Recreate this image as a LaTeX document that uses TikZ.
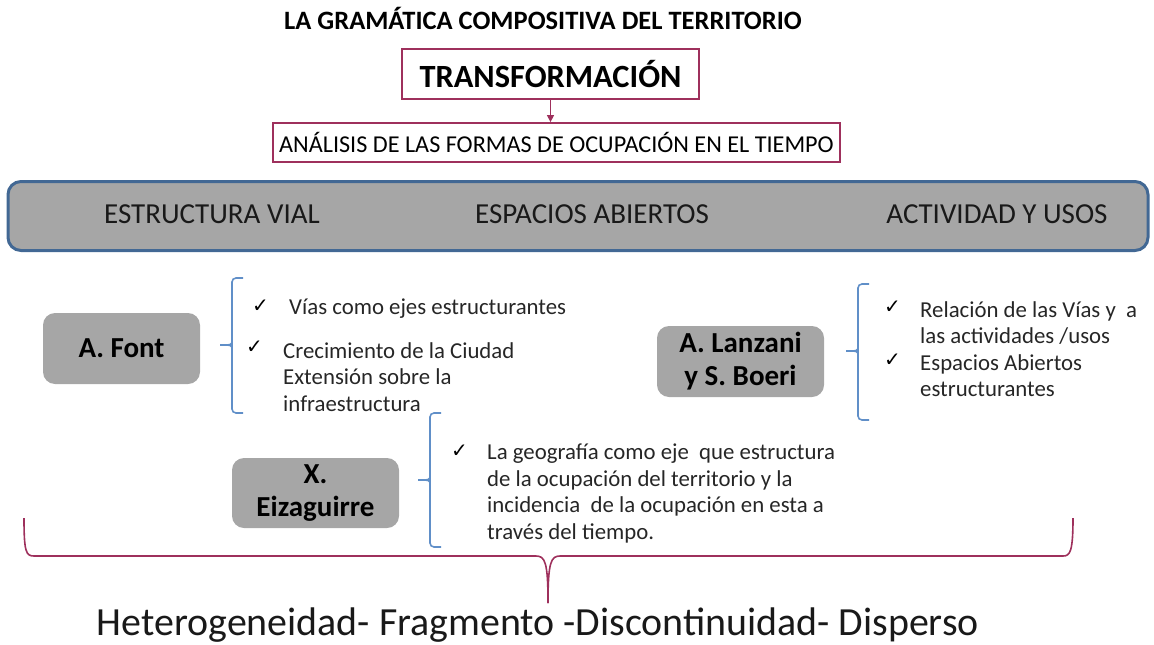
\documentclass[tikz,border=0pt]{standalone}
\usepackage{fontspec}
\setmainfont{Carlito}
\newfontfamily\checkfont{DejaVu Sans}
\usetikzlibrary{arrows.meta, positioning}

\definecolor{borde}{RGB}{158,48,92}
\definecolor{azul}{RGB}{96,143,200}
\definecolor{barraazul}{RGB}{66,104,148}
\definecolor{gris}{RGB}{166,166,166}

\tikzset{
  cajaroja/.style={draw=borde, line width=1.8pt, fill=white, inner sep=0pt},
  barra/.style={draw=barraazul, line width=3pt, fill=gris, rounded corners=13pt},
  eje/.style={font=\fontsize{29}{33}\selectfont, text=black!90},
  autor/.style={fill=gris, rounded corners=12pt, inner sep=0pt, align=center,
    font=\fontsize{29}{33}\selectfont\bfseries},
  item/.style={anchor=west, align=left, inner sep=0pt,
    font=\fontsize{22.8}{26.5}\selectfont, text=black!85},
  marca/.style={anchor=west, inner sep=0pt, font=\checkfont\fontsize{20}{20}\selectfont},
  corchete/.style={draw=azul, line width=1.6pt},
  llave/.style={draw=borde, line width=1.6pt},
}

% #1 = x, #2 = arriba, #3 = punta, #4 = abajo
\newcommand\corchete[4]{%
  \draw[corchete, rounded corners=4pt] (#1+11,#2) -- (#1,#2) -- (#1,#4) -- (#1+11,#4);
  \draw[corchete] (#1,#3-5) .. controls (#1,#3) .. (#1-12,#3);
  \draw[corchete] (#1,#3+5) .. controls (#1,#3) .. (#1-12,#3);
}

\begin{document}
\begin{tikzpicture}[x=1pt, y=-1pt]
  \useasboundingbox (0,0) rectangle (1154,645);

  % cabecera
  \node[font=\fontsize{26.5}{28}\selectfont\bfseries, inner sep=0pt] (titulo) at (543,18)
    {LA GRAMÁTICA COMPOSITIVA DEL TERRITORIO};
  \node[cajaroja, minimum width=297pt, minimum height=50pt,
    font=\fontsize{32.4}{36}\selectfont\bfseries] (transf) at (550.5,74) {TRANSFORMACIÓN};
  \node[cajaroja, minimum width=567pt, minimum height=39pt,
    font=\fontsize{24.2}{27}\selectfont] (analisis) at (556.5,142.5)
    {ANÁLISIS DE LAS FORMAS DE OCUPACIÓN EN EL TIEMPO};
  \draw[borde, line width=1.3pt, -{Triangle[length=7pt, width=7pt]}]
    (transf.south) -- (transf.south |- analisis.north);

  % barra de ejes
  \node[barra, minimum width=1140pt, minimum height=69pt] (barra) at (578,216) {};
  \node[eje] (vial) at (212,214) {ESTRUCTURA VIAL};
  \node[eje] (abiertos) at (592,214) {ESPACIOS ABIERTOS};
  \node[eje] (usos) at (997,214) {ACTIVIDAD Y USOS};

  % autores
  \node[autor, minimum width=157pt, minimum height=71pt] (font) at (121.5,348.5) {A. Font};
  \node[autor, minimum width=167pt, minimum height=71pt] (lanzani) at (740.5,361.5)
    {A. Lanzani\\y S. Boeri};
  \node[autor, minimum width=167pt, minimum height=70pt] (eizaguirre) at (315.5,493)
    {X.\\Eizaguirre};

  % A. Font
  \corchete{232}{278}{345}{413}
  \node[marca] (m1) at (252,306) {✓};
  \node[item] (i1) at (289,309) {Vías como ejes estructurantes};
  \node[marca] (m2) at (246,347) {✓};
  \node[item] (i2) at (283,377) {Crecimiento de la Ciudad\\Extensión sobre la\\infraestructura};

  % A. Lanzani y S. Boeri
  \corchete{858}{284}{351}{420}
  \node[marca] (m3) at (884,307) {✓};
  \node[item] (i3) at (920,323) {Relación de las Vías y~ a\\las actividades /usos};
  \node[marca] (m4) at (884,360) {✓};
  \node[item] (i4) at (920,375.5) {Espacios Abiertos\\estructurantes};

  % X. Eizaguirre
  \corchete{430}{413}{480}{547}
  \node[marca] (m5) at (451,451) {✓};
  \node[item] (i5) at (487,493.5) {La geografía como eje~ que estructura\\de la ocupación del territorio y la\\incidencia~ de la ocupación en esta a\\través del tiempo.};

  % llave y conclusion
  \node[font=\fontsize{39.9}{44}\selectfont, text=black!90, inner sep=0pt] (lema) at (538,625)
    {Heterogeneidad- Fragmento -Discontinuidad- Disperso};
  \coordinate (punta) at (548,603);
  \draw[llave] (24,518) .. controls (24,552) and (26,556) .. (34,556) -- (536,556)
    .. controls (545,556) and (548,562) .. (punta);
  \draw[llave] (punta) .. controls (548,562) and (551,556) .. (560,556) -- (1063,556)
    .. controls (1070,556) and (1073,552) .. (1073,518);
\end{tikzpicture}
\end{document}
